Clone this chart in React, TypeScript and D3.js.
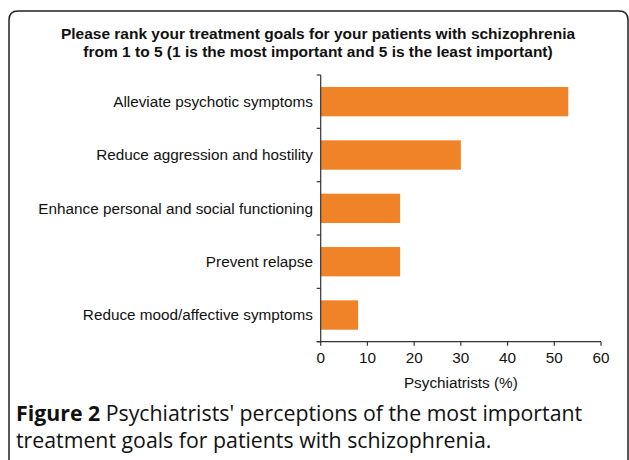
import React from "react";
import * as d3 from "d3";

const categories = [
  "Alleviate psychotic symptoms",
  "Reduce aggression and hostility",
  "Enhance personal and social functioning",
  "Prevent relapse",
  "Reduce mood/affective symptoms",
];
const values = [53, 30, 17, 17, 8];
const xTicks = [0, 10, 20, 30, 40, 50, 60];
const titleLines = [
  "Please rank your treatment goals for your patients with schizophrenia",
  "from 1 to 5 (1 is the most important and 5 is the least important)",
];
const xLabel = "Psychiatrists (%)";
const captionBold = "Figure 2";
const captionLines = [
  " Psychiatrists' perceptions of the most important",
  "treatment goals for patients with schizophrenia.",
];

export default function App() {
  const W = 629, H = 460;
  const left = 320.7, right = 601, top = 75, bottom = 341.7;
  const x = d3.scaleLinear().domain([0, 60]).range([left, right]);
  const y = d3.scaleBand().domain(categories).range([top, bottom]).paddingInner(0.45).paddingOuter(0.225);
  const yTickPos = d3.range(categories.length + 1).map((i) => top + (i * (bottom - top)) / categories.length);
  const sans = "'Liberation Sans', Arial, sans-serif";
  const r = 9;
  const fx = 9, fy = 11, fr = 628;
  const framePath = `M${fx},${H + 5} L${fx},${fy + r} Q${fx},${fy} ${fx + r},${fy} L${fr - r},${fy} Q${fr},${fy} ${fr},${fy + r} L${fr},${H + 5}`;
  return (
    <svg width={W} height={H} style={{ position: "absolute", left: 0, top: 0, background: "#fff" }}>
      <path d={framePath} fill="none" stroke="#222" strokeWidth={1.5} />
      {titleLines.map((t, i) => (
        <text key={i} x={318} y={39 + i * 17.5} textAnchor="middle" fontFamily={sans} fontWeight="bold" fontSize={15.5} fill="#111">
          {t}
        </text>
      ))}
      {categories.map((c, i) => (
        <g key={c}>
          <rect x={x(0)} y={y(c)!} width={x(values[i]) - x(0)} height={y.bandwidth()} fill="#F08228" />
          <text x={313} y={y(c)! + y.bandwidth() / 2} dy="0.35em" textAnchor="end" fontFamily={sans} fontSize={15.3} fill="#111">
            {c}
          </text>
        </g>
      ))}
      <line x1={left} x2={left} y1={top} y2={bottom} stroke="#333" strokeWidth={1.2} />
      {yTickPos.map((p, i) => (
        <line key={i} x1={left - 4} x2={left} y1={p} y2={p} stroke="#333" strokeWidth={1.2} />
      ))}
      <line x1={left - 4} x2={right} y1={bottom} y2={bottom} stroke="#333" strokeWidth={1.2} />
      {xTicks.map((t) => (
        <g key={t}>
          <line x1={x(t)} x2={x(t)} y1={bottom} y2={bottom + 4} stroke="#333" strokeWidth={1.2} />
          <text x={x(t)} y={bottom + 21} textAnchor="middle" fontFamily={sans} fontSize={15.3} fill="#111">
            {t}
          </text>
        </g>
      ))}
      <text x={x(30)} y={bottom + 46} textAnchor="middle" fontFamily={sans} fontSize={15.3} fill="#111">
        {xLabel}
      </text>
      <text x={16} y={421} fontFamily="'Open Sans', sans-serif" fontSize={21.3} fill="#111">
        <tspan fontWeight="bold">{captionBold}</tspan>
        <tspan>{captionLines[0]}</tspan>
      </text>
      <text x={16} y={448} fontFamily="'Open Sans', sans-serif" fontSize={21.3} fill="#111">
        {captionLines[1]}
      </text>
    </svg>
  );
}
